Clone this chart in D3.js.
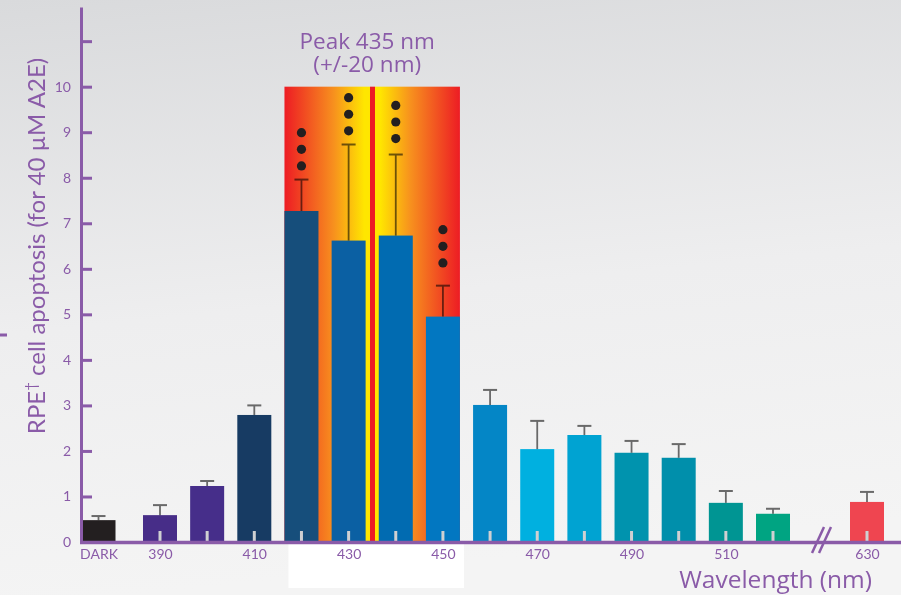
<!DOCTYPE html>
<html>
<head>
<meta charset="utf-8">
<script src="https://cdn.jsdelivr.net/npm/d3@7"></script>
<style>
  body { margin: 0; background: #f2f2f2; }
  text { font-family: "Lato", "Open Sans", sans-serif; }
</style>
</head>
<body>
<div id="chart"></div>
<script>
// Bars, left to right
const categories = ["DARK", "390", "400", "410", "420", "430", "440", "450", "460", "470", "480", "490", "500", "510", "520", "630"]
const values = [0.48, 0.59, 1.23, 2.79, 7.27, 6.62, 6.73, 4.95, 3.01, 2.04, 2.35, 1.96, 1.85, 0.86, 0.62, 0.88]
const errors = [0.09, 0.22, 0.11, 0.21, 0.69, 2.11, 1.78, 0.68, 0.33, 0.62, 0.20, 0.26, 0.30, 0.26, 0.11, 0.22]
const barColors = ["#231f20", "#472d88", "#462e8a", "#173b63", "#164e7b", "#0b60a3", "#016bb1", "#0277c1", "#0486c6", "#00b0e0", "#00a3d2", "#0093ae", "#008fab", "#009593", "#00a482", "#ef4550"]
const labelled = ["DARK", "390", "410", "430", "450", "470", "490", "510", "630"]

// significance dots (value of the lowest dot)
const sigBars = ["420", "430", "440", "450"]
const sigY = [8.26, 9.03, 8.86, 6.13]

const yTicks = d3.range(0, 12)
const peakFrom = "420", peakTo = "450", peakMax = 10

const width = 901, height = 595
const purple = "#8a5ba8"

const svg = d3.select("#chart")
  .append("svg")
  .attr("width", width)
  .attr("height", height)

const defs = svg.append("defs")

// background
const bg = defs.append("linearGradient").attr("id", "bg")
  .attr("x1", 0).attr("y1", 0).attr("x2", 0.15).attr("y2", 1)
bg.append("stop").attr("offset", 0).attr("stop-color", "#d9dadc")
bg.append("stop").attr("offset", 0.55).attr("stop-color", "#eeeeef")
bg.append("stop").attr("offset", 1).attr("stop-color", "#f4f4f4")
svg.append("rect").attr("width", width).attr("height", height).attr("fill", "url(#bg)")

// peak gradient
const pk = defs.append("linearGradient").attr("id", "peak")
  .attr("x1", 0).attr("y1", 0).attr("x2", 1).attr("y2", 0)
;[[0, "#ed1c24"], [0.28, "#f7901e"], [0.455, "#ffe600"], [0.485, "#ffe600"], [0.485, "#ed1c24"], [0.515, "#ed1c24"],
  [0.515, "#ffe600"], [0.545, "#ffe600"], [0.72, "#f7901e"], [1, "#ed1c24"]]
  .forEach(s => pk.append("stop").attr("offset", s[0]).attr("stop-color", s[1]))

// Scales
const x = d3.scaleLinear()
  .domain([0, 1, 14, 15])
  .range([98.5, 160, 773, 867])
const bw = 34
const xi = c => x(categories.indexOf(c))

const y = d3.scaleLinear()
  .domain([0, 11.75])
  .range([542, 7])

// peak band
const px0 = xi(peakFrom) - bw / 2, px1 = xi(peakTo) + bw / 2
svg.append("rect")
  .attr("x", px0).attr("y", y(peakMax))
  .attr("width", px1 - px0).attr("height", y(0) - y(peakMax))
  .attr("fill", "url(#peak)")
svg.append("rect")
  .attr("x", px0 + 4).attr("y", y(0))
  .attr("width", px1 - px0).attr("height", 46)
  .attr("fill", "#ffffff")

// Title
const title = svg.append("text")
  .attr("x", (px0 + px1) / 2 - 5)
  .attr("y", 49)
  .attr("text-anchor", "middle")
  .attr("fill", purple)
  .style("font-family", "'Open Sans', sans-serif")
  .style("font-size", "22.5px")
title.append("tspan").text("Peak 435 nm")
title.append("tspan").attr("x", (px0 + px1) / 2 - 5).attr("dy", 23).text("(+/-20 nm)")

// Bars
svg.selectAll(".bar")
  .data(categories)
  .join("rect")
  .attr("class", "bar")
  .attr("x", (d, i) => x(i) - bw / 2)
  .attr("y", (d, i) => y(values[i]))
  .attr("width", bw)
  .attr("height", (d, i) => y(0) - y(values[i]))
  .attr("fill", (d, i) => barColors[i])

// small marks inside the bars
svg.selectAll(".mark")
  .data(categories.filter(d => d !== "DARK"))
  .join("line")
  .attr("x1", d => xi(d)).attr("x2", d => xi(d))
  .attr("y1", y(0) - 11).attr("y2", y(0))
  .attr("stroke", "#cfd0d2")
  .attr("stroke-width", 3)

// Error bars
const eb = svg.selectAll(".err")
  .data(categories)
  .join("g")
  .attr("class", "err")
  .style("mix-blend-mode", "multiply")
eb.append("line")
  .attr("x1", (d, i) => x(i)).attr("x2", (d, i) => x(i))
  .attr("y1", (d, i) => y(values[i])).attr("y2", (d, i) => y(values[i] + errors[i]))
  .attr("stroke", "#6f6f6f").attr("stroke-width", 1.8)
eb.append("line")
  .attr("x1", (d, i) => x(i) - 7).attr("x2", (d, i) => x(i) + 7)
  .attr("y1", (d, i) => y(values[i] + errors[i])).attr("y2", (d, i) => y(values[i] + errors[i]))
  .attr("stroke", "#6f6f6f").attr("stroke-width", 2)

// significance dots
sigBars.forEach((c, i) => {
  svg.selectAll(null)
    .data([0, 1, 2])
    .join("circle")
    .attr("cx", xi(c))
    .attr("cy", k => y(sigY[i]) - k * 16.6)
    .attr("r", 4.6)
    .attr("fill", "#231f20")
})

// Y axis
const yAxis = svg.append("g")
  .attr("transform", "translate(81,0)")
  .call(d3.axisLeft(y).tickValues(yTicks).tickFormat(d => d === 11 ? "" : d)
    .tickSizeInner(-11).tickSizeOuter(0).tickPadding(10))
yAxis.select(".domain").attr("stroke", purple).attr("stroke-width", 3)
yAxis.selectAll(".tick line").attr("stroke", purple).attr("stroke-width", 3)
yAxis.selectAll(".tick text").attr("fill", purple).style("font-size", "14px")
  .style("font-family", "Lato, 'Open Sans', sans-serif")

// X axis
svg.append("line")
  .attr("x1", 80).attr("x2", width)
  .attr("y1", y(0) + 0.5).attr("y2", y(0) + 0.5)
  .attr("stroke", purple).attr("stroke-width", 3.5)

const xAxis = svg.append("g")
  .attr("transform", `translate(0,${y(0)})`)
  .call(d3.axisBottom(x)
    .tickValues(labelled.map(c => categories.indexOf(c)))
    .tickFormat(i => categories[i])
    .tickSize(0).tickPadding(7))
xAxis.select(".domain").remove()
xAxis.selectAll(".tick text").attr("fill", purple).style("font-size", "14px")
  .style("font-family", "Lato, 'Open Sans', sans-serif")

// axis break
const bx = (x(14) + x(15)) / 2 + 2
;[-4, 3].forEach(o => {
  svg.append("line")
    .attr("x1", bx + o - 6).attr("y1", y(0) + 11)
    .attr("x2", bx + o + 6).attr("y2", y(0) - 15)
    .attr("stroke", purple).attr("stroke-width", 2.5)
})

// axis titles
const yTitle = svg.append("text")
  .attr("transform", "translate(45,246) rotate(-90)")
  .attr("text-anchor", "middle")
  .attr("fill", purple)
  .style("font-size", "24px")
yTitle.append("tspan").text("RPE")
yTitle.append("tspan").attr("baseline-shift", "super").style("font-size", "15px").text("†")
yTitle.append("tspan").text(" cell apoptosis (for 40 µM A2E)")

svg.append("text")
  .attr("x", 872)
  .attr("y", 588)
  .attr("text-anchor", "end")
  .attr("fill", purple)
  .style("font-family", "'Open Sans', sans-serif")
  .style("font-size", "24.5px")
  .text("Wavelength (nm)")

// stray mark at the left edge
svg.append("line")
  .attr("x1", 0).attr("x2", 7).attr("y1", 335).attr("y2", 335)
  .attr("stroke", purple).attr("stroke-width", 3)
</script>
</body>
</html>
